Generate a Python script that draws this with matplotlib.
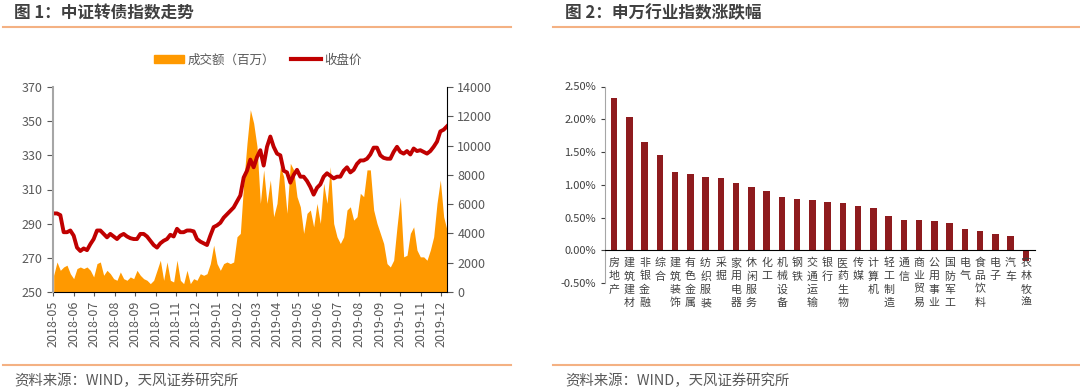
import matplotlib
matplotlib.use("Agg")
import matplotlib.pyplot as plt
import matplotlib.dates as mdates
from matplotlib.lines import Line2D
from matplotlib.patches import Patch
import pandas as pd

plt.rcParams['font.family'] = ['Noto Sans CJK SC', 'DejaVu Sans']

# ---- data: 中证转债指数 (5-day steps) -------------------------------------- #
price = [296, 296, 295, 285, 285, 286, 283, 276, 274, 275.5,
         274.5, 278, 281, 286, 286, 284, 282, 284, 282.5, 281,
         283, 284, 282.5, 281.5, 281, 281, 284, 284, 282.5, 280,
         277.5, 276, 278.5, 280, 281, 283.5, 282.5, 287, 285, 285,
         286, 286, 285.5, 281, 279.5, 278.5, 277.5, 283, 288, 289,
         290.5, 293.5, 295.5, 297.5, 299.5, 303, 306.5, 317, 321, 327.5,
         323, 329, 333, 324, 335, 341, 335, 331, 330, 321,
         320, 314, 318.5, 321.5, 317.5, 317.5, 315, 311.5, 307, 311,
         313, 317.5, 319.5, 318, 316.5, 317.5, 317.5, 321, 323, 320,
         321.5, 325, 327, 327, 328, 330.5, 334.5, 334.5, 330, 328.5,
         328, 328, 332, 335, 332, 331, 332.5, 330.5, 334, 332.5,
         333, 332, 331, 332.5, 335, 338, 344, 345, 347]
volume = [1140, 2050, 1480, 1710, 1830, 1250, 910, 1600, 1710, 1600,
          1710, 1480, 1030, 1940, 2050, 1140, 1480, 1250, 910, 800,
          1370, 910, 800, 1030, 910, 1480, 1140, 910, 800, 570,
          800, 1480, 2170, 800, 2050, 800, 685, 2170, 800, 570,
          1480, 570, 910, 800, 1250, 1140, 1250, 1940, 3200, 1940,
          1480, 1940, 2050, 1940, 2050, 3770, 4000, 7420, 10160, 12450,
          11530, 9940, 6050, 8340, 6050, 7650, 5140, 6050, 8560, 7880,
          5370, 8790, 8340, 6510, 5820, 4000, 5370, 5600, 4450, 6050,
          4680, 7420, 6050, 8560, 4680, 3770, 3310, 3770, 5600, 5820,
          4910, 5140, 6740, 6510, 8340, 8340, 5600, 4680, 4000, 3310,
          1940, 1710, 2170, 4450, 6510, 2400, 2510, 4000, 4450, 2860,
          2400, 2400, 2170, 2860, 3770, 6050, 7650, 5140, 4230]
dates = pd.date_range('2018-05-02', '2019-12-10', periods=len(price))

# ---- data: 申万行业指数涨跌幅 (%) ------------------------------------------ #
industries = ['房地产', '建筑建材', '非银金融', '综合', '建筑装饰', '有色金属', '纺织服装',
              '采掘', '家用电器', '休闲服务', '化工', '机械设备', '钢铁', '交通运输',
              '银行', '医药生物', '传媒', '计算机', '轻工制造', '通信', '商业贸易',
              '公用事业', '国防军工', '电气', '食品饮料', '电子', '汽车', '农林牧渔']
changes = [2.32, 2.04, 1.66, 1.45, 1.19, 1.16, 1.12, 1.10, 1.02, 0.96,
           0.91, 0.81, 0.79, 0.76, 0.74, 0.72, 0.67, 0.65, 0.52, 0.46,
           0.46, 0.45, 0.41, 0.33, 0.29, 0.25, 0.21, -0.17]

ORANGE = '#FF9900'
RED = '#C00000'
BAR = '#8E1B1E'
RULE = '#F4B183'
GREY = '#595959'

fig = plt.figure(figsize=(10.8, 3.91), dpi=100)

# headers, rules, sources
for x0, x1, tx, title in [(0.003, 0.473, 0.013, '图 1：中证转债指数走势'),
                          (0.512, 1.0, 0.523, '图 2：申万行业指数涨跌幅')]:
    fig.add_artist(Line2D([x0, x1], [1 - 27 / 391] * 2, color=RULE, lw=1.5))
    fig.add_artist(Line2D([x0, x1], [1 - 365 / 391] * 2, color=RULE, lw=1.5))
    fig.text(tx, 1 - 13 / 391, title, fontsize=12, fontweight='bold',
             color='#404040', va='center')
    fig.text(tx, 1 - 381 / 391, '资料来源：WIND，天风证券研究所', fontsize=10.4,
             color=GREY, va='center')

# ---- left: volume area (right axis) + close line (left axis) -------------- #
ax = fig.add_axes((53 / 1080, 1 - 292 / 391, 394 / 1080, 205 / 391))
ax.fill_between(dates, volume, color=ORANGE, lw=0)
ax.set_ylim(0, 14000)
ax.set_yticks(range(0, 14001, 2000))
ax.set_xlim(pd.Timestamp('2018-05-01'), dates[-1])
ax.xaxis.set_major_locator(mdates.MonthLocator())
ax.xaxis.set_major_formatter(mdates.DateFormatter('%Y-%m'))
ax.tick_params(axis='x', rotation=90, labelsize=9, colors=GREY, length=3)
ax.spines['top'].set_visible(False)
ax.spines['left'].set_visible(False)

ax2 = ax.twinx()
ax2.plot(dates, price, color=RED, lw=2.8, solid_joinstyle='round')
ax2.set_ylim(250, 370)
ax2.set_yticks(range(250, 371, 20))
ax2.yaxis.tick_left()
ax.yaxis.tick_right()   # twinx moved these to the left
ax.tick_params(axis='y', labelsize=9, colors=GREY, length=4)
ax2.tick_params(axis='y', labelsize=9, colors=GREY, length=4)
ax2.spines['top'].set_visible(False)
ax2.spines['right'].set_visible(False)
ax2.spines['bottom'].set_visible(False)
ax2.spines['left'].set_color('#A6A6A6')
ax2.spines['left'].set_linewidth(1.5)

fig.legend(handles=[Patch(color=ORANGE, label='成交额（百万）'),
                    Line2D([], [], color=RED, lw=3, label='收盘价')],
           loc='center', bbox_to_anchor=(258 / 1080, 1 - 60 / 391), ncol=2,
           frameon=False, fontsize=9, labelcolor=GREY, handlelength=2.4,
           handleheight=0.6, handletextpad=0.3, columnspacing=1.2)

# ---- right: industry bars -------------------------------------------------- #
bx = fig.add_axes((605 / 1080, 1 - 283 / 391, 430 / 1080, 196.5 / 391))
bx.bar(range(len(industries)), changes, width=0.42, color=BAR)
bx.set_xlim(-0.6, len(industries) - 0.4)
bx.set_ylim(-0.5, 2.5)
bx.set_yticks([-0.5, 0, 0.5, 1.0, 1.5, 2.0, 2.5])
bx.set_yticklabels([f'{v:.2f}%' for v in bx.get_yticks()])
bx.set_xticks([])
bx.tick_params(axis='y', labelsize=8, colors='#404040', length=3)
bx.spines['bottom'].set_position(('data', 0))
bx.spines['top'].set_visible(False)
bx.spines['right'].set_visible(False)
bx.spines['left'].set_color('#A6A6A6')

# vertical category names, one character per line just under the zero line
for i, name in enumerate(industries):
    for k, ch in enumerate(name):
        bx.annotate(ch, xy=(i, 0), xytext=(0, -5.5 - 9.6 * k),
                    textcoords='offset points', ha='center', va='top',
                    fontsize=7.9, color='#404040', annotation_clip=False)

fig.savefig('out.png', dpi=100)
